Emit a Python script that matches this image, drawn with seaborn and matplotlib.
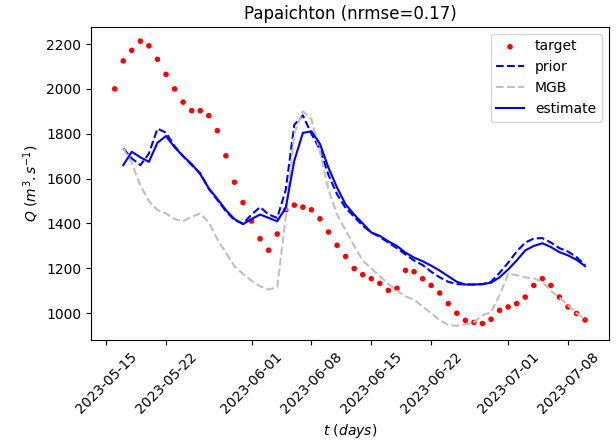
import numpy as np
import pandas as pd
import seaborn as sns
import matplotlib
matplotlib.use("Agg")
import matplotlib.pyplot as plt
import matplotlib.dates as mdates

station = "Papaichton"
nrmse = 0.17

# observed discharge, daily from 2023-05-16
target_start = "2023-05-16"
target = [2000, 2125, 2172, 2213, 2192, 2132, 2065, 2000, 1941, 1903,
          1903, 1881, 1814, 1702, 1584, 1493, 1411, 1332, 1281, 1353,
          1461, 1482, 1473, 1461, 1421, 1362, 1303, 1253, 1199, 1172,
          1154, 1133, 1102, 1111, 1191, 1185, 1154, 1124, 1090, 1043,
          1000, 968, 959, 954, 973, 1013, 1028, 1043, 1072, 1124,
          1154, 1124, 1072, 1028, 999, 970]

# model series, daily from 2023-05-17
model_start = "2023-05-17"
prior = [1735, 1690, 1660, 1712, 1823, 1805, 1745, 1700, 1660, 1625,
         1555, 1505, 1455, 1415, 1400, 1440, 1473, 1440, 1425, 1550,
         1840, 1882, 1800, 1730, 1616, 1530, 1469, 1430, 1390, 1360,
         1340, 1315, 1290, 1262, 1235, 1215, 1185, 1160, 1140, 1130,
         1128, 1128, 1129, 1140, 1180, 1225, 1275, 1315, 1333, 1335,
         1315, 1290, 1275, 1250, 1215]
mgb = [1734, 1670, 1570, 1500, 1460, 1445, 1420, 1410, 1430, 1445,
       1405, 1330, 1270, 1210, 1175, 1145, 1120, 1106, 1115, 1430,
       1800, 1900, 1865, 1720, 1550, 1440, 1370, 1300, 1235, 1200,
       1165, 1130, 1100, 1075, 1060, 1030, 1000, 970, 947, 944,
       950, 960, 990, 1005, 1080, 1175, 1170, 1160, 1155, 1140,
       1100, 1070, 1035, 1000, 973]
estimate = [1660, 1720, 1695, 1675, 1760, 1790, 1740, 1700, 1665, 1620,
            1557, 1510, 1460, 1420, 1397, 1420, 1440, 1425, 1410, 1470,
            1680, 1804, 1811, 1755, 1648, 1560, 1485, 1440, 1400, 1360,
            1345, 1320, 1300, 1270, 1248, 1232, 1212, 1190, 1165, 1140,
            1128, 1128, 1130, 1136, 1160, 1195, 1235, 1280, 1300, 1312,
            1295, 1272, 1258, 1238, 1210]

t_obs = pd.date_range(target_start, periods=len(target), freq="D")
t_mod = pd.date_range(model_start, periods=len(estimate), freq="D")

fig, ax = plt.subplots(figsize=(6.16, 4.41), dpi=100)

sns.scatterplot(x=t_obs, y=target, color="red", s=16, edgecolor="none",
                label="target", ax=ax)
sns.lineplot(x=t_mod, y=prior, color="blue", linestyle="--", label="prior", ax=ax)
sns.lineplot(x=t_mod, y=mgb, color="silver", linestyle="--", label="MGB", ax=ax)
sns.lineplot(x=t_mod, y=estimate, color="blue", label="estimate", ax=ax)

ax.xaxis.set_major_locator(mdates.DayLocator(bymonthday=[1, 8, 15, 22]))
ax.xaxis.set_major_formatter(mdates.DateFormatter("%Y-%m-%d"))
plt.setp(ax.get_xticklabels(), rotation=45)

ax.set_title(f"{station} (nrmse={nrmse})")
ax.set_xlabel(r"$t\ (days)$")
ax.set_ylabel(r"$Q\ (m^3.s^{-1})$")
ax.legend(loc="upper right")

fig.subplots_adjust(left=0.148, right=0.988, top=0.939, bottom=0.229)
plt.savefig("out.png")
